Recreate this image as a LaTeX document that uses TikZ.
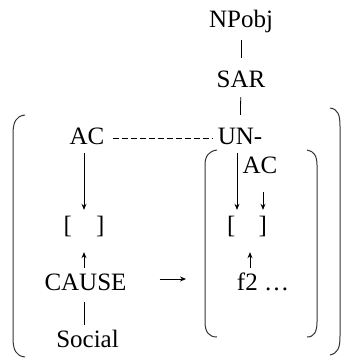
\documentclass[tikz,border=0pt]{standalone}
\usepackage{fontspec}
\setmainfont{Liberation Serif}
\usetikzlibrary{arrows.meta}

\begin{document}
\begin{tikzpicture}[x=1pt,y=-1pt,font=\fontsize{25}{30}\selectfont, lbl/.style={anchor=base,inner sep=0pt,text height=17pt,text depth=5pt}, ln/.style={line width=0.8pt}, arr/.style={ln,-{Stealth[length=6pt,width=5pt]}}, paren/.style={line width=1pt,color=black!80}]
\useasboundingbox (0,0) rectangle (342,359);
\node[lbl] (np) at (241,27) {NPobj};
\node[lbl] (sar) at (241,87) {SAR};
\node[lbl] (acl) at (87,144) {AC};
\node[lbl] (un) at (240,144) {UN-};
\node[lbl] (acr) at (260,173) {AC};
\node[lbl] (brl) at (84,233) {[\hspace{24pt}]};
\node[lbl] (brr) at (247,233) {[\hspace{23pt}]};
\node[lbl] (cause) at (85.5,290) {CAUSE};
\node[lbl] (ftwo) at (263,290) {f2 \dots};
\node[lbl] (soc) at (87.5,347) {Social};
\coordinate (ingrp) at (205,279);
% parentheses
\draw[paren] (25,115) .. controls (16,116) and (13,122) .. (13,134) -- (13,338) .. controls (13,350) and (16,356) .. (25,357);
\draw[paren] (330,108) .. controls (338,109) and (340,115) .. (340,126) -- (340,336) .. controls (340,348) and (338,353) .. (330,355);
\draw[paren] (217,150) .. controls (209,151) and (205,156) .. (205,165) -- (205,322) .. controls (205,332) and (209,337) .. (217,337);
\draw[paren] (307,150) .. controls (314,151) and (317,156) .. (317,165) -- (317,322) .. controls (317,332) and (314,337) .. (307,337);
\draw[ln,shorten <=8pt,shorten >=12pt] (np) -- (sar);
\draw[ln,shorten <=5pt,shorten >=12pt] (sar) -- (un);
\draw[ln,dash pattern=on 6pt off 3pt,shorten <=8pt,shorten >=5pt] (acl.east) -- (un.west);
\draw[arr,shorten <=4pt,shorten >=6pt] (acl.south -| brl.north) -- (brl.north);
\draw[arr,shorten <=5pt,shorten >=14pt] (cause.north -| brl.south) -- (brl.south);
\draw[ln,shorten <=7pt,shorten >=5pt] (cause.south -| brl.south) -- (soc.north -| brl.south);
\draw[arr,shorten <=33pt,shorten >=19pt] ([yshift=5pt]cause.east) -- (ingrp);
\draw[arr,shorten <=4pt,shorten >=6pt] ([xshift=-10pt]brr.north |- un.south) -- ([xshift=-10pt]brr.north);
\draw[arr,shorten <=14pt,shorten >=6pt] ([xshift=3pt]acr.south) -- ([xshift=3pt]acr.south |- brr.north);
\draw[arr,shorten <=5pt,shorten >=14pt] ([xshift=3pt]brr.south |- ftwo.north) -- ([xshift=3pt]brr.south);
\end{tikzpicture}
\end{document}
